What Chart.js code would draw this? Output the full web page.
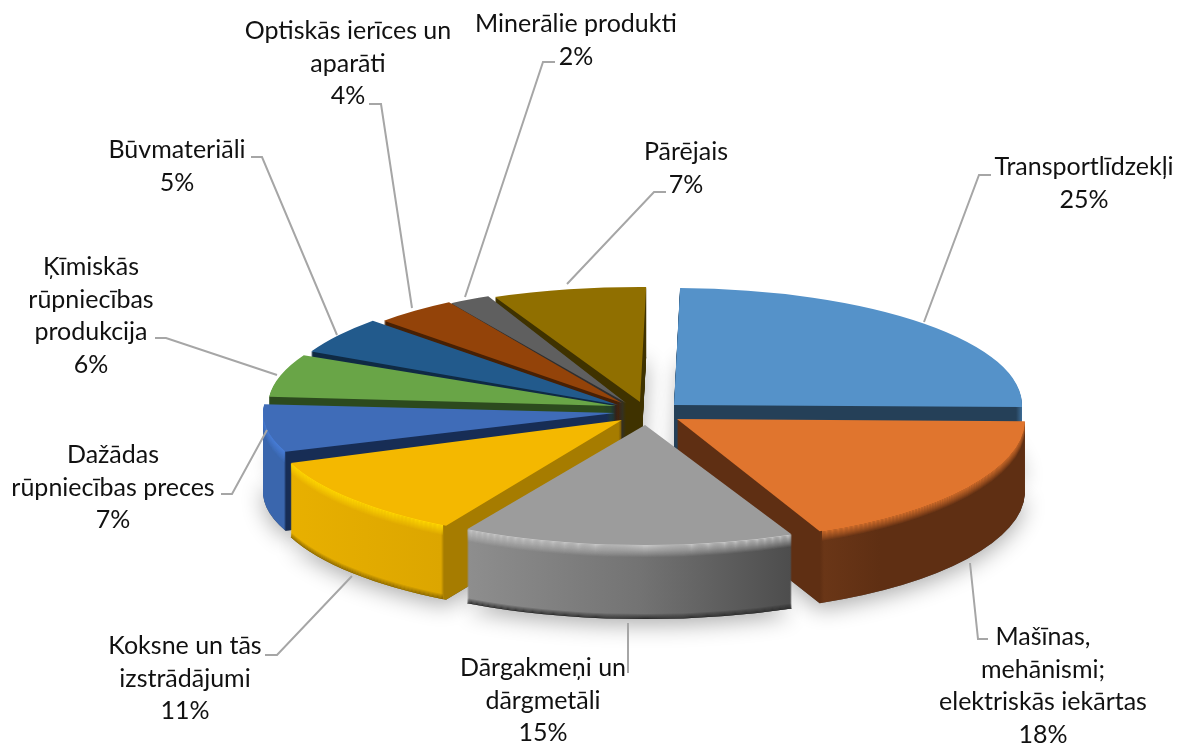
<!DOCTYPE html>
<html lang="lv">
<head>
<meta charset="utf-8"/>
<title>Eksporta struktūra</title>
<script src="https://cdn.jsdelivr.net/npm/chart.js"></script>
<style>
  body { margin: 0; background: #fff; }
  canvas { display: block; }
</style>
</head>
<body>
<canvas id="grafiks" width="1177" height="743"></canvas>
<script>
  // dati
  const categories = ['Transportlīdzekļi', 'Mašīnas, mehānismi; elektriskās iekārtas', 'Dārgakmeņi un dārgmetāli',
    'Koksne un tās izstrādājumi', 'Dažādas rūpniecības preces', 'Ķīmiskās rūpniecības produkcija',
    'Būvmateriāli', 'Optiskās ierīces un aparāti', 'Minerālie produkti', 'Pārējais'];
  const shares = [25, 18, 15, 11, 7, 6, 5, 4, 2, 7];

  // izskats
  const topColors = ['#5592c9', '#e0752e', '#9c9c9c', '#f4b800', '#3f6cb8', '#69a547', '#225a8c', '#934309', '#5f5f5f', '#906f00'];
  const BASE_R = 350;
  // virsotne un rādiusi katram sektoram: ax, ay, rx, ry
  const sliceGeo = [
    [674, 405, 348, 117], [677, 419, 348, 123], [645, 425, 358, 120], [622, 420, 354, 122], [615, 413, 352, 110],
    [616, 406, 348, 115], [618, 405, 342, 121], [622, 403, 332, 118], [626, 403, 336, 117], [640, 402, 354, 115]
  ];
  const depths = [70, 72, 74, 74, 79, 70, 70, 70, 70, 70];
  // sānu siena: [x uz ekrāna, krāsa]
  const wallStops = [
    [[674, '#254058'], [1016, '#254058'], [1022, '#3d6c96']],
    [[677, '#5f2f13'], [820, '#5f2f13'], [824, '#6a3617'], [880, '#5f2f13'], [1030, '#5f2f13']],
    [[467, '#8e8e8e'], [640, '#737373'], [795, '#4c4c4c']],
    [[290, '#e8b000'], [441, '#dca600'], [444, '#a67c00'], [640, '#a67c00']],
    [[262, '#3a66ad'], [284, '#3a66ad'], [286, '#172d55'], [620, '#172d55']],
    [[265, '#2c4a1e'], [620, '#2c4a1e']],
    [[300, '#0f2a44'], [620, '#0f2a44']],
    [[380, '#472004'], [630, '#472004']],
    [[450, '#2f2f2f'], [630, '#2f2f2f']],
    [[490, '#3f3200'], [650, '#3f3200']]
  ];
  const rimColors = [null, '#e0752e', '#c6c6c6', '#ffd800', '#4a80dc', null, null, null, null, null];
  const rimRange = [null, [822, 1040], [466, 796], [285, 443], [255, 285], null, null, null, null, null];
  const rimSize = [0, 10, 12, 10, 12, 0, 0, 0, 0, 0];
  const baseColors = [null, null, '#2e2e2e', '#8a6800', null, null, null, null, null, null];
  const drawOrder = [9, 8, 7, 6, 5, 4, 0, 3, 1, 2];

  // uzrakstu izvietojums
  const labelLines = [
    ['Transportlīdzekļi', '25%'], ['Mašīnas,', 'mehānismi;', 'elektriskās iekārtas', '18%'], ['Dārgakmeņi un', 'dārgmetāli', '15%'],
    ['Koksne un tās', 'izstrādājumi', '11%'], ['Dažādas', 'rūpniecības preces', '7%'], ['Ķīmiskās', 'rūpniecības', 'produkcija', '6%'],
    ['Būvmateriāli', '5%'], ['Optiskās ierīces un', 'aparāti', '4%'], ['Minerālie produkti', '2%'], ['Pārējais', '7%']
  ];
  const labelPos = [[1084, 167], [1043, 637], [543, 668], [185, 646], [113, 455], [91, 267], [177, 150], [348, 31], [576, 24], [686, 152]];
  const leaders = [
    [[991, 175], [979, 175], [924, 322]],
    [[988, 639], [978, 639], [970, 563]],
    [[628, 673], [628, 623]],
    [[265, 655], [277, 655], [352, 576]],
    [[221, 494], [232, 494], [267, 430]],
    [[155, 338], [166, 338], [277, 375]],
    [[251, 157], [262, 157], [337, 335]],
    [[369, 104], [381, 104], [412, 308]],
    [[555, 62], [543, 62], [465, 297]],
    [[666, 192], [654, 192], [567, 284]]
  ];

  function paintArc(ctx, arc, fill) {
    const saved = arc.options;
    arc.options = Object.assign({}, saved, { backgroundColor: fill });
    arc.draw(ctx);
    arc.options = saved;
  }

  function placeSlice(ctx, arc, i, d) {
    const g = sliceGeo[i];
    ctx.translate(g[0], g[1] + d);
    ctx.scale(g[2] / BASE_R, g[3] / BASE_R);
    ctx.translate(-arc.x, -arc.y);
  }

  function wallGradient(ctx, arc, i) {
    const g = sliceGeo[i];
    const stops = wallStops[i];
    const x0 = stops[0][0], x1 = stops[stops.length - 1][0];
    const toLocal = x => (x - g[0]) * BASE_R / g[2] + arc.x;
    const grad = ctx.createLinearGradient(toLocal(x0), 0, toLocal(x1), 0);
    stops.forEach(s => grad.addColorStop((s[0] - x0) / (x1 - x0), s[1]));
    return grad;
  }

  const pie3d = {
    id: 'pie3d',
    beforeDatasetsDraw(chart) {
      const ctx = chart.ctx;
      const arcs = chart.getDatasetMeta(0).data;

      // ēna uz pamatnes
      arcs.forEach((arc, i) => {
        ctx.save();
        ctx.shadowColor = 'rgba(0,0,0,0.32)';
        ctx.shadowBlur = 22;
        ctx.shadowOffsetY = 6;
        placeSlice(ctx, arc, i, depths[i]);
        paintArc(ctx, arc, '#555');
        ctx.restore();
      });

      drawOrder.forEach(i => {
        const arc = arcs[i];
        const grad = wallGradient(ctx, arc, i);
        for (let d = depths[i]; d >= 1; d--) {
          ctx.save();
          placeSlice(ctx, arc, i, d);
          paintArc(ctx, arc, grad);
          ctx.restore();

          let over = null, alpha = 0;
          if (rimColors[i] && d <= rimSize[i]) {
            over = rimColors[i];
            alpha = 1 - (d - 1) / rimSize[i];
          } else if (baseColors[i] && d >= depths[i] - 4) {
            over = baseColors[i];
            alpha = (d - depths[i] + 5) / 5;
          }
          if (over) {
            ctx.save();
            if (rimRange[i]) {
              ctx.beginPath();
              ctx.rect(rimRange[i][0], 0, rimRange[i][1] - rimRange[i][0], 743);
              ctx.clip();
            }
            ctx.globalAlpha = alpha;
            placeSlice(ctx, arc, i, d);
            paintArc(ctx, arc, over);
            ctx.restore();
          }
        }
        ctx.save();
        placeSlice(ctx, arc, i, 0);
        paintArc(ctx, arc, topColors[i]);
        ctx.restore();
      });
      return false;
    },
    afterDraw(chart) {
      const ctx = chart.ctx;
      ctx.save();
      ctx.strokeStyle = '#a6a6a6';
      ctx.lineWidth = 2;
      leaders.forEach(pts => {
        ctx.beginPath();
        pts.forEach((p, k) => k ? ctx.lineTo(p[0], p[1]) : ctx.moveTo(p[0], p[1]));
        ctx.stroke();
      });
      ctx.fillStyle = '#111';
      ctx.font = '25px Lato';
      ctx.textAlign = 'center';
      ctx.textBaseline = 'middle';
      labelLines.forEach((lines, i) => {
        lines.forEach((t, k) => ctx.fillText(t, labelPos[i][0], labelPos[i][1] + k * 32.5));
      });
      ctx.restore();
    }
  };

  new Chart(document.getElementById('grafiks'), {
    type: 'pie',
    data: {
      labels: categories,
      datasets: [{ data: shares, backgroundColor: topColors, borderWidth: 0, radius: BASE_R }]
    },
    options: {
      responsive: false,
      animation: false,
      rotation: 1,
      plugins: { legend: { display: false }, tooltip: { enabled: false } }
    },
    plugins: [pie3d]
  });
</script>
</body>
</html>
